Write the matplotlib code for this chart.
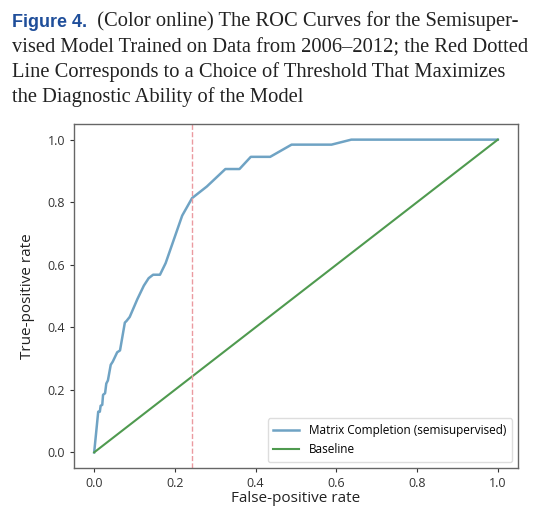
import matplotlib
matplotlib.use('Agg')
import matplotlib.pyplot as plt
from matplotlib.text import Annotation

# ROC curve (false-positive rate, true-positive rate)
fpr = [0.0, 0.010, 0.014, 0.016, 0.020, 0.022, 0.027, 0.030, 0.034, 0.041,
       0.046, 0.057, 0.064, 0.076, 0.080, 0.088, 0.107, 0.123, 0.135, 0.146,
       0.163, 0.177, 0.218, 0.2425, 0.279, 0.325, 0.360, 0.388, 0.436, 0.489,
       0.588, 0.637, 1.0]
tpr = [0.0, 0.130, 0.130, 0.149, 0.152, 0.184, 0.189, 0.220, 0.230, 0.280,
       0.290, 0.320, 0.326, 0.415, 0.420, 0.433, 0.490, 0.533, 0.557, 0.568,
       0.568, 0.605, 0.757, 0.813, 0.850, 0.906, 0.906, 0.945, 0.945, 0.984,
       0.984, 1.0, 1.0]
baseline = [0.0, 1.0]
threshold_fpr = 0.2425

xticks = [0.0, 0.2, 0.4, 0.6, 0.8, 1.0]
yticks = [0.0, 0.2, 0.4, 0.6, 0.8, 1.0]

BLUE = "#6fa3c4"
GREEN = "#4f9a4f"
RED = "#eb9aa0"
CAP_BLUE = "#1f4e9a"
SERIF = 'Liberation Serif'
CAP_SIZE = 14.8

fig = plt.figure(figsize=(5.48, 5.30), dpi=100)

# caption: bold blue label followed by serif text on the same line
t1 = fig.text(12 / 548, 1 - 27 / 530, "Figure 4.", fontsize=13,
              fontweight='bold', color=CAP_BLUE, family='Liberation Sans',
              ha='left', va='baseline')
fig.add_artist(Annotation("  (Color online) The ROC Curves for the Semisuper-",
                          xy=(1, 0), xycoords=t1, fontsize=CAP_SIZE,
                          family=SERIF, color='#222', ha='left', va='bottom',
                          annotation_clip=False))
caption_lines = [
    "vised Model Trained on Data from 2006\u20132012; the Red Dotted",
    "Line Corresponds to a Choice of Threshold That Maximizes",
    "the Diagnostic Ability of the Model",
]
for i, line in enumerate(caption_lines):
    fig.text(12 / 548, 1 - (52 + 25 * i) / 530, line, fontsize=CAP_SIZE,
             family=SERIF, color='#222', ha='left', va='baseline')

ax = fig.add_axes([74 / 548, 1 - 468 / 530, 444 / 548, 344 / 530])
ax.plot(fpr, tpr, color=BLUE, linewidth=1.8,
        label="Matrix Completion (semisupervised)")
ax.plot(baseline, baseline, color=GREEN, linewidth=1.5, label="Baseline")
ax.axvline(threshold_fpr, color=RED, linestyle='--', linewidth=1.0)

ax.set_xlim(-0.05, 1.05)
ax.set_ylim(-0.05, 1.05)
ax.set_xticks(xticks)
ax.set_yticks(yticks)
ax.set_xticklabels([f"{v:.1f}" for v in xticks])
ax.set_yticklabels([f"{v:.1f}" for v in yticks])
ax.tick_params(labelsize=9, colors='#333', length=3)
for s in ax.spines.values():
    s.set_color('#666')
    s.set_linewidth(1.0)
ax.set_xlabel("False-positive rate", fontsize=11, family='Open Sans',
              color='#222', labelpad=1)
ax.set_ylabel("True-positive rate", fontsize=11, family='Open Sans',
              color='#222', labelpad=9)
for lbl in ax.get_xticklabels() + ax.get_yticklabels():
    lbl.set_family('Open Sans')

ax.legend(loc='lower right', prop={'family': 'Open Sans', 'size': 8.5},
          framealpha=1.0, edgecolor='#ddd', fancybox=True,
          handlelength=2.2, borderpad=0.5)

fig.savefig("out.png", dpi=100)
